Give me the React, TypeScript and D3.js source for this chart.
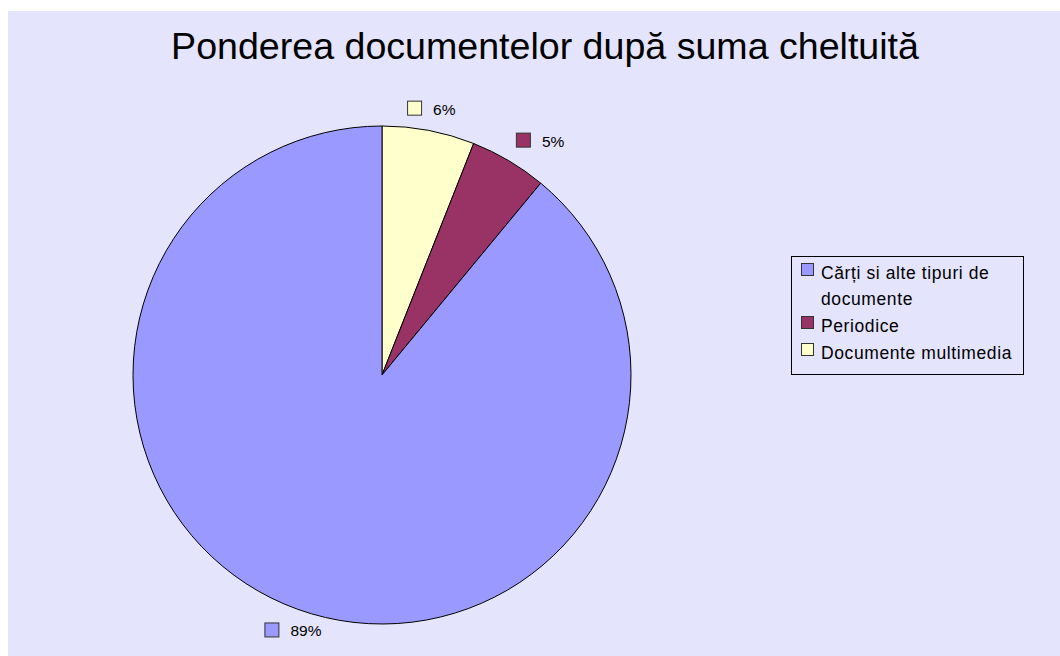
import React from "react";
import * as d3 from "d3";

const TITLE = "Ponderea documentelor după suma cheltuită";
const categories = ["Cărți si alte tipuri de documente", "Periodice", "Documente multimedia"];
const values = [89, 5, 6];
const colors = ["#9999FF", "#993366", "#FFFFCC"];
// drawing order of slices starting at 12 o'clock clockwise
const sliceOrder = [2, 1, 0];

const W = 1060;
const H = 656;
const FONT = "'Liberation Sans', Arial, sans-serif";

function measure(text: string, size: number): number {
  const c = document.createElement("canvas").getContext("2d");
  if (!c) return text.length * size * 0.55;
  c.font = `${size}px 'Liberation Sans', Arial, sans-serif`;
  return c.measureText(text).width;
}

function wrap(text: string, size: number, maxW: number): string[] {
  const words = text.split(" ");
  const lines: string[] = [];
  let cur = "";
  for (const w of words) {
    const t = cur ? cur + " " + w : w;
    if (measure(t, size) > maxW && cur) {
      lines.push(cur);
      cur = w;
    } else cur = t;
  }
  if (cur) lines.push(cur);
  return lines;
}

export default function App() {
  const cx = 382;
  const cy = 375;
  const r = 249;
  const total = d3.sum(values);
  const pct = d3.format(".0%");

  const ordered = sliceOrder.map((i) => ({ i, v: values[i] }));
  const pie = d3
    .pie<{ i: number; v: number }>()
    .value((d) => d.v)
    .sort(null)
    .startAngle(0)
    .endAngle(2 * Math.PI);
  const arcs = pie(ordered);
  const arc = d3.arc<d3.PieArcDatum<{ i: number; v: number }>>().innerRadius(0).outerRadius(r);

  const labelSize = 15.5;
  const keySize = 15;
  const keyGap = 11;
  const labelR = r + 14;

  const labels = arcs.map((a) => {
    const mid = (a.startAngle + a.endAngle) / 2;
    const s = Math.sin(mid);
    const c = Math.cos(mid);
    const px = cx + labelR * s;
    const py = cy - labelR * c;
    const text = pct(a.data.v / total);
    const tw = measure(text, labelSize);
    const bw = keySize + keyGap + tw;
    const bh = 16;
    let left: number;
    if (Math.abs(s) < 0.4) left = px - bw / 2;
    else if (s > 0) left = px;
    else left = px - bw;
    let top: number;
    if (Math.abs(c) < 0.3) top = py - bh / 2;
    else if (c > 0) top = py - bh;
    else top = py;
    return { a, text, left, top, bh };
  });

  const legendSize = 17.5;
  const legendX = 791;
  const legendY = 256;
  const legendW = 232;
  const legendH = 118;
  const lineH = 26;
  let baseline = legendY + 23;
  const legendItems = categories.map((cat, i) => {
    const lines = wrap(cat, legendSize, 190);
    const item = { i, lines, baseline };
    baseline += lines.length * lineH + 1;
    return item;
  });

  return (
    <svg
      width={W}
      height={H}
      style={{ position: "absolute", left: 0, top: 0, fontFamily: FONT }}
    >
      <rect x={0} y={0} width={W} height={H} fill="#ffffff" />
      <rect x={8} y={11} width={W - 8} height={H - 11} fill="#E4E4FC" />
      <text x={545} y={59} textAnchor="middle" fontSize={37.6} fill="#000">
        {TITLE}
      </text>
      <g>
        {arcs.map((a) => (
          <path
            key={a.data.i}
            d={arc(a) || ""}
            transform={`translate(${cx},${cy})`}
            fill={colors[a.data.i]}
            stroke="#000"
            strokeWidth={1}
          />
        ))}
      </g>
      <g>
        {labels.map((l) => (
          <g key={l.a.data.i}>
            <rect
              x={l.left + 0.5}
              y={l.top + 0.5}
              width={keySize - 1}
              height={keySize - 1}
              fill={colors[l.a.data.i]}
              stroke="#333"
              strokeWidth={1}
            />
            <text
              x={l.left + keySize + keyGap}
              y={l.top + 14}
              fontSize={labelSize}
              fill="#000"
            >
              {l.text}
            </text>
          </g>
        ))}
      </g>
      <g>
        <rect
          x={legendX + 0.5}
          y={legendY + 0.5}
          width={legendW}
          height={legendH}
          fill="#E4E4FC"
          stroke="#000"
          strokeWidth={1}
        />
        {legendItems.map((it) => (
          <g key={it.i}>
            <rect
              x={legendX + 10.5}
              y={it.baseline - 15.5}
              width={12}
              height={12}
              fill={colors[it.i]}
              stroke="#333"
              strokeWidth={1}
            />
            <text x={legendX + 30} y={it.baseline} fontSize={legendSize} fill="#000" letterSpacing={0.6}>
              {it.lines.map((ln, k) => (
                <tspan key={k} x={legendX + 30} y={it.baseline + k * lineH}>
                  {ln}
                </tspan>
              ))}
            </text>
          </g>
        ))}
      </g>
    </svg>
  );
}
